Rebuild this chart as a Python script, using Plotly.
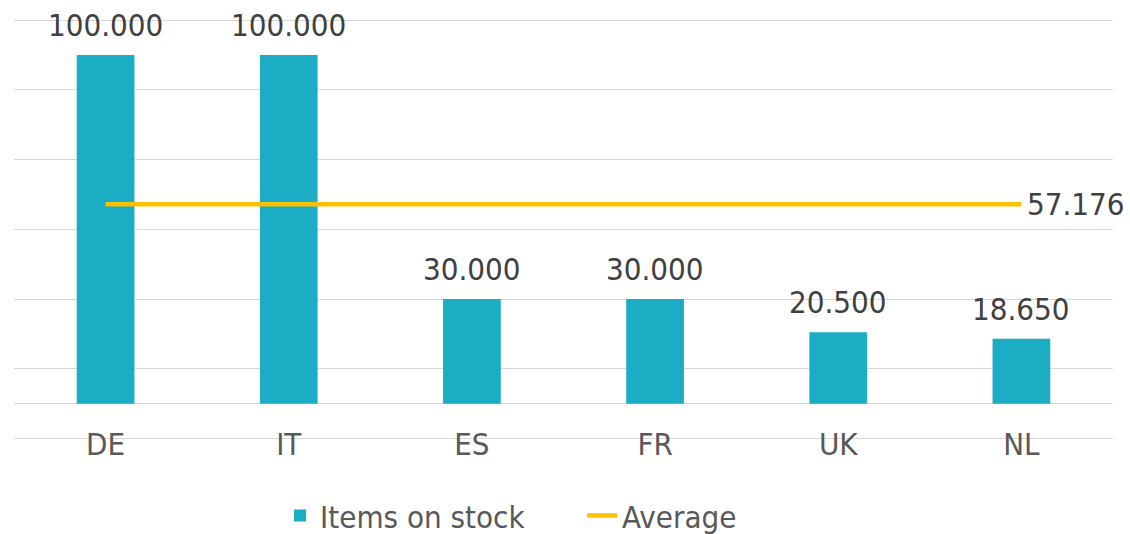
import plotly.graph_objects as go

categories = ["DE", "IT", "ES", "FR", "UK", "NL"]
items_on_stock = [100000, 100000, 30000, 30000, 20500, 18650]
average = [57176, 57176, 57176, 57176, 57176, 57176]
grid_values = [-10000, 10000, 30000, 50000, 70000, 90000, 110000]

BAR = "#1AADC3"
LINE = "#FFC000"
FONT = "DejaVu Sans Condensed, Noto Sans, sans-serif"


def fmt(v):
    return f"{v:,.0f}".replace(",", ".")


fig = go.Figure()
fig.add_trace(go.Bar(x=categories, y=items_on_stock, name="Items on stock",
                     marker=dict(color=BAR, line=dict(width=0)), width=0.315))
fig.add_trace(go.Scatter(x=categories, y=average, name="Average", mode="lines",
                         line=dict(color=LINE, width=4.5)))

annotations = [
    dict(x=c, y=v, text=fmt(v), showarrow=False, yanchor="bottom", yshift=10,
         font=dict(family=FONT, size=31, color="#404040"))
    for c, v in zip(categories, items_on_stock)
]
annotations.append(dict(x=categories[-1], y=average[-1], text=fmt(average[-1]),
                        xanchor="left", yanchor="middle", xshift=4, showarrow=False,
                        font=dict(family=FONT, size=31, color="#404040")))

fig.update_layout(
    width=1130, height=534,
    margin=dict(l=14, r=17, t=19, b=94, autoexpand=False),
    plot_bgcolor="white", paper_bgcolor="white",
    font=dict(family=FONT, size=31, color="#595959"),
    annotations=annotations,
    showlegend=True,
    legend=dict(orientation="h", x=0.2421, xanchor="left", y=-0.18, yanchor="middle",
                entrywidth=257,
                font=dict(family=FONT, size=31, color="#595959")),
    xaxis=dict(range=[-0.5, 5.5], showgrid=False, showline=False, zeroline=False,
               anchor="free", position=0.04,
               tickfont=dict(family=FONT, size=31, color="#595959")),
    yaxis=dict(range=[-10400, 110300], tickvals=grid_values, showticklabels=False,
               showgrid=True, gridcolor="#d9d9d9", gridwidth=1,
               zeroline=True, zerolinecolor="#d9d9d9", zerolinewidth=1),
)

fig.write_html("out.html",
               config={"displayModeBar": False},
               post_script="document.body.style.margin='0';document.body.style.overflow='hidden';")
